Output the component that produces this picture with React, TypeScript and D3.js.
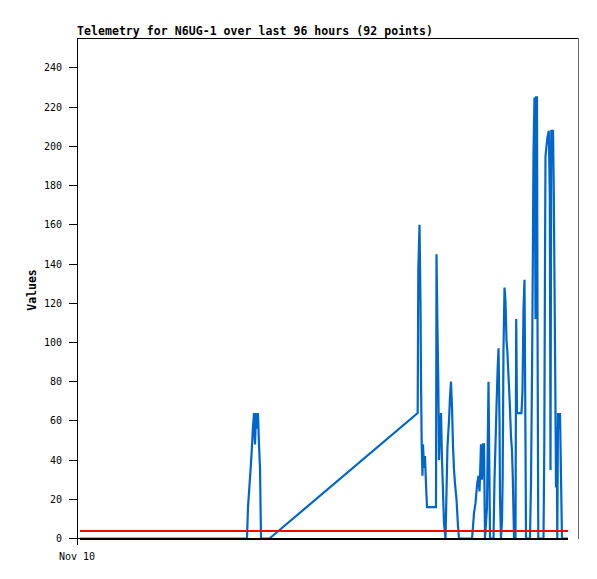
import React from "react";
import * as d3 from "d3";

// Blue telemetry series: hours since start (Nov 10) and value
const blueHours = [
  0.57, 32.57, 32.77, 33.02, 33.28, 33.53, 33.72, 33.92, 34.11, 34.3, 34.49, 34.68, 34.87, 35.07, 35.26,
  36.89, 65.28, 65.4, 65.63, 65.82, 65.92, 66.05, 66.2, 66.3, 66.49, 66.68, 66.87, 67.07,
  68.79, 68.89, 69.08, 69.23, 69.37, 69.56, 69.75, 69.94, 70.13, 70.32, 70.61,
  70.99, 71.28, 71.47, 71.66, 71.86, 72.05, 72.24, 72.43, 72.72, 73.01, 73.2,
  75.69, 75.88, 76.07, 76.36, 76.55, 76.74, 76.93, 77.13, 77.41, 77.6, 77.8, 77.99, 78.18, 78.37, 78.56, 78.85, 79.14,
  79.81, 80.0, 80.19, 80.38, 80.61, 80.77, 80.96, 81.05, 81.24, 81.44, 81.57, 81.72, 81.92, 82.11, 82.3, 82.45, 82.68,
  82.91, 83.16, 83.35, 83.51, 83.74, 84.02, 84.16, 84.31, 85.17, 85.36, 85.56, 85.75, 85.94, 86.04,
  86.8, 86.99, 87.19, 87.34, 87.47, 87.66, 87.86, 87.95, 88.14, 88.24, 88.39,
  89.39, 89.54, 89.68, 89.77, 89.96, 90.16, 90.41, 90.6, 90.73, 90.88, 91.21, 91.34, 91.5, 91.65, 91.79, 91.92, 92.03,
  92.17, 92.36, 92.55, 92.74, 92.93, 94.08,
];
const blueValues = [
  0, 0, 16, 26, 36, 47, 57, 64, 48, 64, 56, 64, 48, 36, 0,
  0, 64, 137, 160, 120, 80, 48, 32, 48, 36, 42, 28, 16,
  16, 145, 105, 80, 40, 56, 64, 40, 24, 8, 0,
  47, 60, 72, 80, 67, 47, 35, 28, 20, 6, 0,
  0, 6, 13, 18, 24, 29, 32, 24, 48, 30, 48, 48, 0, 8, 16, 80, 0,
  0, 30, 48, 67, 87, 97, 60, 21, 0, 9, 32, 96, 128, 121, 101, 96, 83,
  70, 52, 45, 31, 0, 0, 112, 64, 64, 75, 117, 132, 48, 0,
  0, 28, 84, 140, 196, 225, 112, 225, 225, 112, 0,
  0, 48, 144, 195, 200, 205, 208, 174, 35, 208, 208, 182, 130, 78, 26, 57, 0,
  64, 56, 64, 32, 0, 0,
];

// Flat series
const flatHours = [0.57, 94.08];
const blackValues = [0, 0];
const redValues = [4, 4];

const yTicks = [0, 20, 40, 60, 80, 100, 120, 140, 160, 180, 200, 220, 240];
const xTickHours = [0];
const xTickLabels = ["Nov 10"];
const title = "Telemetry for N6UG-1 over last 96 hours (92 points)";
const yLabel = "Values";

export default function App() {
  const left = 77;
  const right = 578;
  const top = 38;
  const bottom = 538.5;
  const x = d3.scaleLinear().domain([0, 96]).range([left, right]);
  const y = d3.scaleLinear().domain([0, 255.3]).range([bottom, top]);

  const line = d3
    .line<[number, number]>()
    .x((d) => x(d[0]))
    .y((d) => y(d[1]));

  const blue = blueHours.map((h, i) => [h, blueValues[i]] as [number, number]);
  const black = flatHours.map((h, i) => [h, blackValues[i]] as [number, number]);
  const red = flatHours.map((h, i) => [h, redValues[i]] as [number, number]);

  const mono = "'DejaVu Sans Mono', monospace";

  return (
    <div style={{ position: "absolute", left: 0, top: 0 }}>
      <svg width={597} height={579} style={{ display: "block", background: "#fff" }}>
        <rect x={0} y={0} width={597} height={579} fill="#fff" />
        {/* frame */}
        <line x1={left} x2={right} y1={top + 0.5} y2={top + 0.5} stroke="#000" strokeWidth={1} />
        <line x1={right + 0.5} x2={right + 0.5} y1={top} y2={539} stroke="#666" strokeWidth={1} />
        <line x1={left + 0.5} x2={left + 0.5} y1={top} y2={545} stroke="#000" strokeWidth={1} />
        {/* y ticks */}
        {yTicks.map((t) => {
          const yy = Math.round(y(t) - 0.5) + 0.5;
          return (
            <g key={t}>
              <line x1={69} x2={t === 0 ? 82 : 77} y1={yy} y2={yy} stroke="#000" strokeWidth={1} />
              <text
                x={62}
                y={yy}
                dy="0.36em"
                textAnchor="end"
                fontFamily={mono}
                fontSize={10}
                fill="#000"
              >
                {t}
              </text>
            </g>
          );
        })}
        {/* x ticks */}
        {xTickHours.map((h, i) => (
          <text
            key={i}
            x={x(h)}
            y={560}
            textAnchor="middle"
            fontFamily={mono}
            fontSize={10}
            fill="#000"
          >
            {xTickLabels[i]}
          </text>
        ))}
        {/* series */}
        <path
          d={line(blue) || ""}
          fill="none"
          stroke="#0066cc"
          strokeWidth={2.2}
          strokeLinejoin="miter"
          strokeMiterlimit={2}
        />
        <path d={line(red) || ""} fill="none" stroke="#ff0000" strokeWidth={2} shapeRendering="crispEdges" />
        <path d={line(black) || ""} fill="none" stroke="#000" strokeWidth={2} shapeRendering="crispEdges" />
        {/* title */}
        <text
          x={77}
          y={35}
          fontFamily={mono}
          fontWeight="bold"
          fontSize={11.5}
          textLength={356}
          lengthAdjust="spacing"
          fill="#000"
        >
          {title}
        </text>
        <text
          transform="translate(36,290) rotate(-90)"
          textAnchor="middle"
          fontFamily={mono}
          fontWeight="bold"
          fontSize={11.5}
          fill="#000"
        >
          {yLabel}
        </text>
      </svg>
    </div>
  );
}
